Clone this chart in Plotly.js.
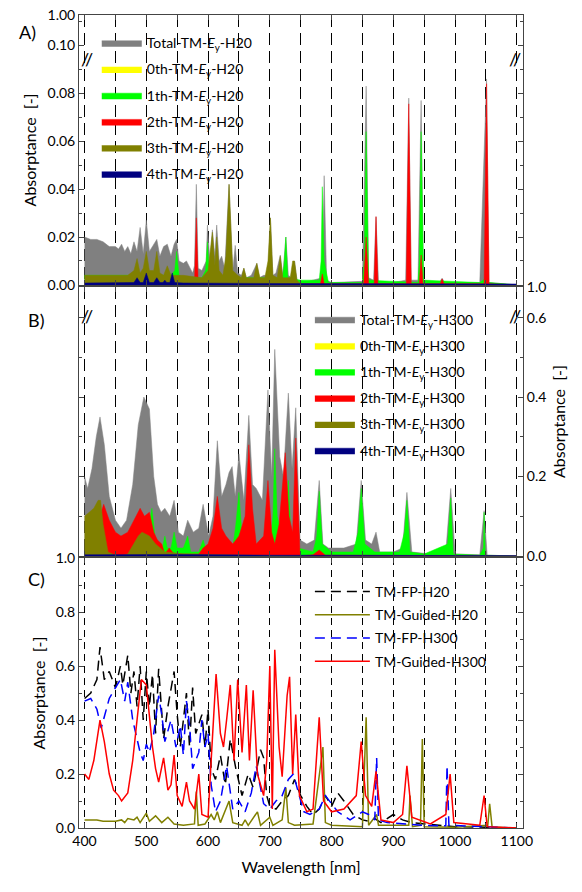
<!DOCTYPE html>
<html>
<head>
<meta charset="utf-8">
<script src="https://cdn.plot.ly/plotly-3.0.1.min.js"></script>
<style>body{margin:0;background:#fff}#plot{width:582px;height:892px}</style>
</head>
<body>
<div id="plot"></div>
<script>
// ---- panel A: H20 modal absorptance ----
const aTotX = [400,410,420,430,440,450,455,460,465,470,475,480,485,490,495,500,505,510,517,522,528,534,540,545,549,553,560,565,575,578,581,584,590,597,599,603,607,611,614,618,622,627,634,640,644,648,654,658,662,670,679,683,690,697,701,705,710,717,721,726,730,735,740,744,755,770,785,788,792,800,850,856,860,868,872,876,900,920,925,929,940,945,949,975,979,983,1040,1051,1055,1100];
const aTotY = [0.020,0.019,0.019,0.018,0.016,0.016,0.015,0.017,0.014,0.016,0.013,0.018,0.014,0.024,0.013,0.027,0.014,0.016,0.019,0.012,0.016,0.017,0.012,0.017,0.019,0.010,0.009,0.010,0.005,0.008,0.042,0.007,0.006,0.010,0.025,0.010,0.023,0.012,0.025,0.010,0.012,0.007,0.042,0.006,0.0165,0.005,0.004,0.007,0.003,0.004,0.009,0.003,0.004,0.004,0.028,0.004,0.005,0.0125,0.004,0.020,0.004,0.003,0.010,0.002,0.001,0.002,0.003,0.0456,0.002,0.001,0.0015,0.083,0.003,0.002,0.0285,0.001,0.001,0.002,0.078,0.002,0.002,0.077,0.002,0.0012,0.0028,0.001,0.001,0.086,0.001,0];
const a0X = [400,700,1100];
const a0Y = [0.0002,0.0001,0];
const a1X = [400,450,500,540,546,549,553,560,590,596,599,602,620,720,723,726,729,750,780,783,785,788,795,850,853,856,860,940,942,945,949,1040,1051,1055,1100];
const a1Y = [0.004,0.004,0.004,0.004,0.006,0.014,0.004,0.003,0.003,0.006,0.018,0.004,0.003,0.003,0.008,0.020,0.003,0.002,0.002,0.010,0.041,0.010,0.001,0.001,0.010,0.064,0.002,0.001,0.010,0.064,0.002,0.001,0.003,0.001,0];
const a2X = [400,420,423,426,500,578,581,584,782,785,788,852,856,860,869,872,875,921,925,929,942,945,948,976,979,982,1047,1051,1055,1100];
const a2Y = [0.0005,0.0005,0.002,0.0005,0.0005,0.0005,0.028,0.0005,0.0005,0.0046,0.0005,0.0005,0.020,0.0005,0.0005,0.0285,0.0005,0.0005,0.0756,0.0005,0.0005,0.0125,0.0005,0.0005,0.0025,0.0005,0.0005,0.084,0.0005,0];
const a3X = [400,440,470,480,485,490,495,500,505,512,517,522,528,534,540,550,560,590,600,607,611,614,618,624,629,634,640,648,654,658,662,674,679,684,692,697,701,705,712,717,721,733,737,740,744,752];
const a3Y = [0.004,0.004,0.004,0.006,0.011,0.005,0.007,0.014,0.006,0.006,0.014,0.005,0.004,0.008,0.004,0.004,0.004,0.003,0.006,0.022,0.008,0.020,0.006,0.004,0.012,0.042,0.006,0.004,0.003,0.007,0.003,0.003,0.009,0.003,0.003,0.010,0.028,0.004,0.003,0.012,0.003,0.003,0.010,0.010,0.002,0];
const a4X = [400,470,480,485,490,495,500,505,512,517,522,527,530,533,538,542,546,560,700,1100];
const a4Y = [0.0008,0.0008,0.001,0.003,0.001,0.001,0.005,0.001,0.001,0.003,0.001,0.001,0.002,0.001,0.001,0.005,0.001,0.0008,0.0006,0.0004];

// ---- panel B: H300 modal absorptance ----
const bTotX = [400,405,412,419,425,432,440,450,459,468,478,487,496,505,512,518,524,530,538,545,552,560,567,576,585,592,601,608,615,622,629,634,639,644,650,658,666,672,678,688,697,703,708,712,716,722,730,736,742,749,760,772,780,786,795,820,840,848,855,865,872,878,900,915,922,930,960,985,993,1000,1040,1047,1052,1100];
const bTotY = [0.20,0.17,0.22,0.30,0.35,0.28,0.15,0.09,0.07,0.09,0.18,0.33,0.40,0.37,0.20,0.13,0.11,0.12,0.10,0.14,0.06,0.05,0.09,0.06,0.07,0.13,0.05,0.10,0.29,0.15,0.18,0.21,0.225,0.15,0.257,0.14,0.354,0.18,0.17,0.14,0.418,0.20,0.52,0.38,0.25,0.20,0.41,0.22,0.373,0.04,0.03,0.04,0.19,0.03,0.02,0.02,0.03,0.19,0.04,0.03,0.06,0.01,0.01,0.02,0.16,0.01,0.005,0.01,0.17,0.005,0.003,0.114,0.002,0];
const b0X = [400,700,1100];
const b0Y = [0.0003,0.0002,0];
const b1X = [400,500,505,509,514,520,526,530,534,540,545,550,560,567,572,585,592,598,640,645,650,655,670,678,686,700,705,708,712,720,726,730,734,738,742,746,770,776,780,785,800,835,843,848,854,870,910,918,922,927,950,988,993,997,1040,1046,1047,1049,1100];
const b1Y = [0.0,0.0,0.08,0.12,0.05,0.03,0.02,0.05,0.02,0.02,0.06,0.02,0.02,0.05,0.01,0.01,0.04,0.01,0.02,0.08,0.16,0.05,0.02,0.02,0.01,0.03,0.10,0.27,0.10,0.05,0.12,0.19,0.06,0.03,0.05,0.02,0.01,0.05,0.163,0.03,0.01,0.01,0.06,0.17,0.03,0.01,0.01,0.06,0.14,0.01,0.005,0.03,0.146,0.005,0.002,0.02,0.11,0.002,0];
const b2X = [400,410,420,425,431,440,450,459,470,480,490,497,505,512,518,525,530,537,545,560,585,592,600,608,615,622,629,640,650,660,666,672,678,690,697,703,708,715,725,731,737,742,749,770,780,790,1100];
const b2Y = [0.0,0.0,0.05,0.10,0.13,0.09,0.06,0.05,0.06,0.09,0.12,0.10,0.11,0.06,0.04,0.03,0.005,0.02,0.005,0.005,0.005,0.02,0.03,0.07,0.15,0.07,0.05,0.03,0.05,0.10,0.28,0.12,0.03,0.05,0.19,0.06,0.03,0.08,0.26,0.10,0.06,0.297,0.0,0.003,0.015,0.002,0.0];
const b3X = [400,415,422,426,430,438,448,459,470,480,487,493,500,505,515,530,545,560,600,700,760];
const b3Y = [0.10,0.12,0.14,0.14,0.08,0.01,0.003,0.0,0.005,0.03,0.05,0.06,0.055,0.05,0.03,0.01,0.008,0.005,0.003,0.002,0.0];
const b4X = [400,550,700,1100];
const b4Y = [0.003,0.004,0.002,0.001];

// ---- panel C: FP and guided absorptance ----
const fpH20X = [400,410,420,425,432,440,450,458,462,470,475,480,485,490,495,500,505,510,515,520,528,535,545,550,555,565,570,575,580,590,595,600,605,612,620,628,636,645,655,665,673,685,690,695,700,710,720,730,740,750,760,770,780,790,800,810,820,835,850,860,870,880,900,915,930,950,1000,1050,1100];
const fpH20Y = [0.48,0.50,0.55,0.67,0.55,0.58,0.52,0.60,0.53,0.64,0.50,0.58,0.45,0.60,0.40,0.58,0.45,0.57,0.35,0.59,0.33,0.45,0.58,0.42,0.30,0.50,0.30,0.52,0.35,0.42,0.30,0.44,0.22,0.18,0.27,0.16,0.33,0.22,0.12,0.20,0.15,0.29,0.26,0.12,0.08,0.07,0.10,0.12,0.18,0.12,0.08,0.05,0.07,0.12,0.08,0.13,0.10,0.05,0.03,0.025,0.035,0.02,0.05,0.03,0.02,0.015,0.005,0.003,0.0];
const guH20X = [400,420,430,450,460,465,470,480,485,490,500,505,515,525,535,545,560,578,581,584,595,605,610,615,620,634,640,655,660,665,680,685,700,705,720,726,730,740,770,786,790,800,850,856,860,873,876,925,927,931,944,947,950,1000,1053,1056,1060,1100];
const guH20Y = [0.03,0.03,0.025,0.025,0.03,0.02,0.035,0.03,0.04,0.02,0.055,0.025,0.045,0.02,0.04,0.015,0.01,0.015,0.135,0.01,0.015,0.05,0.03,0.06,0.02,0.10,0.02,0.01,0.03,0.01,0.06,0.01,0.04,0.01,0.03,0.15,0.02,0.01,0.015,0.30,0.02,0.01,0.005,0.41,0.01,0.05,0.01,0.01,0.12,0.005,0.01,0.33,0.005,0.003,0.01,0.09,0.003,0.0];
const fpH300X = [400,410,420,427,440,450,458,465,470,478,485,490,495,500,505,512,520,525,530,540,548,555,560,565,570,575,585,590,595,600,605,612,620,630,640,650,660,670,678,690,700,710,720,730,738,745,755,765,780,790,800,810,830,850,860,870,873,876,890,920,950,985,987,990,1040,1100];
const fpH300Y = [0.47,0.48,0.44,0.37,0.48,0.52,0.55,0.47,0.54,0.40,0.33,0.28,0.25,0.31,0.28,0.35,0.49,0.42,0.32,0.40,0.30,0.38,0.27,0.47,0.38,0.22,0.28,0.40,0.30,0.35,0.16,0.06,0.10,0.23,0.07,0.10,0.06,0.13,0.23,0.09,0.07,0.10,0.12,0.18,0.20,0.14,0.06,0.05,0.07,0.12,0.09,0.06,0.03,0.06,0.05,0.03,0.26,0.03,0.02,0.015,0.01,0.008,0.23,0.01,0.005,0.0];
const guH300X = [400,407,415,425,432,440,447,455,460,470,478,485,492,500,505,510,515,520,528,535,540,545,550,558,565,570,578,585,590,600,605,613,620,625,630,636,642,648,655,662,667,673,680,690,695,700,704,708,715,720,728,732,737,742,748,760,770,780,787,800,820,840,848,855,865,872,880,900,915,922,930,960,985,992,998,1040,1047,1052,1100];
const guH300Y = [0.20,0.18,0.25,0.40,0.32,0.20,0.14,0.12,0.10,0.13,0.25,0.40,0.55,0.53,0.40,0.30,0.22,0.17,0.26,0.14,0.16,0.27,0.12,0.08,0.17,0.10,0.07,0.20,0.05,0.04,0.25,0.57,0.35,0.30,0.40,0.53,0.25,0.55,0.28,0.53,0.25,0.51,0.20,0.12,0.25,0.60,0.07,0.66,0.30,0.19,0.49,0.56,0.20,0.42,0.12,0.06,0.07,0.41,0.10,0.06,0.07,0.12,0.32,0.12,0.08,0.21,0.03,0.02,0.05,0.23,0.04,0.015,0.05,0.20,0.02,0.01,0.12,0.005,0.0];

const gridTicks = [400,450,500,550,600,650,700,750,800,850,900,950,1000,1050,1100];
const gridText = ['400','','500','','600','','700','','800','','900','','1000','','1100'];

const FONT = 'Lato, "Open Sans", sans-serif';
const sub = (s, h) => s + '-TM-<i>E</i><sub>y</sub>-' + h;

function area(x, y, color, name, xa, ya, leg) {
  return {x, y, name, legendgroup: name, xaxis: xa, yaxis: ya, legend: leg, type: 'scatter', mode: 'lines',
    fill: 'tozeroy', fillcolor: color, line: {color: color, width: 0.5}};
}
function curve(x, y, color, dash, name) {
  return {x, y, name, legendgroup: name, xaxis: 'x3', yaxis: 'y3', legend: 'legend3', type: 'scatter', mode: 'lines',
    line: {color: color, width: 1.5, dash: dash}};
}

const data = [
  area(aTotX, aTotY, '#808080', sub('Total', 'H20'), 'x', 'y', 'legend'),
  area(a0X, a0Y, '#ffff00', sub('0th', 'H20'), 'x', 'y', 'legend'),
  area(a1X, a1Y, '#00ff00', sub('1th', 'H20'), 'x', 'y', 'legend'),
  area(a2X, a2Y, '#ff0000', sub('2th', 'H20'), 'x', 'y', 'legend'),
  area(a3X, a3Y, '#808000', sub('3th', 'H20'), 'x', 'y', 'legend'),
  area(a4X, a4Y, '#000080', sub('4th', 'H20'), 'x', 'y', 'legend'),
  area(bTotX, bTotY, '#808080', sub('Total', 'H300'), 'x2', 'y2', 'legend2'),
  area(b0X, b0Y, '#ffff00', sub('0th', 'H300'), 'x2', 'y2', 'legend2'),
  area(b1X, b1Y, '#00ff00', sub('1th', 'H300'), 'x2', 'y2', 'legend2'),
  area(b2X, b2Y, '#ff0000', sub('2th', 'H300'), 'x2', 'y2', 'legend2'),
  area(b3X, b3Y, '#808000', sub('3th', 'H300'), 'x2', 'y2', 'legend2'),
  area(b4X, b4Y, '#000080', sub('4th', 'H300'), 'x2', 'y2', 'legend2'),
  curve(fpH20X, fpH20Y, '#000000', '10px,6px', 'TM-FP-H20'),
  curve(guH20X, guH20Y, '#808000', 'solid', 'TM-Guided-H20'),
  curve(fpH300X, fpH300Y, '#0000ff', '10px,6px', 'TM-FP-H300'),
  curve(guH300X, guH300Y, '#ff0000', 'solid', 'TM-Guided-H300'),
];

const xBase = {
  range: [391, 1110], tickvals: gridTicks, ticktext: gridText, ticks: 'inside', ticklen: 5,
  showgrid: true, gridcolor: '#000', griddash: '9px,6px', gridwidth: 1,
  showline: true, linecolor: '#444', linewidth: 1, mirror: 'ticks', zeroline: false,
  tickfont: {size: 14}
};
const yBase = {
  ticks: 'inside', ticklen: 5, showgrid: false, zeroline: false, showline: true,
  linecolor: '#444', linewidth: 1, mirror: 'ticks', tickfont: {size: 14},
  minor: {ticks: 'inside', ticklen: 3}
};
const legBase = {xanchor: 'left', yanchor: 'top', yref: 'paper', bgcolor: 'rgba(0,0,0,0)',
  font: {size: 14}, tracegroupgap: 5, itemwidth: 40};

const layout = {
  width: 582, height: 892, showlegend: true,
  font: {family: FONT, size: 14, color: '#000'},
  margin: {l: 79, r: 59, t: 15, b: 64},
  plot_bgcolor: '#fff', paper_bgcolor: '#fff',
  xaxis: Object.assign({}, xBase, {anchor: 'y', showticklabels: false, griddash: '12px,6px'}),
  xaxis2: Object.assign({}, xBase, {anchor: 'y2', showticklabels: false, griddash: '12px,6px'}),
  xaxis3: Object.assign({}, xBase, {anchor: 'y3', griddash: '7px,5px',
    title: {text: 'Wavelength [nm]', font: {size: 16}, standoff: 14}}),
  yaxis: Object.assign({}, yBase, {domain: [0.668, 1], range: [0, 0.1127],
    tickvals: [0, 0.02, 0.04, 0.06, 0.08, 0.10, 0.1127],
    ticktext: ['0.00', '0.02', '0.04', '0.06', '0.08', '0.10', '1.00'],
    minor: {ticks: 'inside', ticklen: 3, dtick: 0.01},
    title: {text: 'Absorptance  [-]', font: {size: 16}, standoff: 6}}),
  yaxis2: Object.assign({}, yBase, {domain: [0.3346, 0.6654], range: [0, 0.677], side: 'right',
    tickvals: [0, 0.2, 0.4, 0.6, 0.677], ticktext: ['0.0', '0.2', '0.4', '0.6', '1.0'],
    minor: {ticks: 'inside', ticklen: 3, dtick: 0.1},
    title: {text: 'Absorptance  [-]', font: {size: 16}, standoff: 8}}),
  yaxis3: Object.assign({}, yBase, {domain: [0, 0.332], range: [0, 1.0], dtick: 0.2,
    tickformat: '.1f', minor: {ticks: 'inside', ticklen: 3, dtick: 0.1},
    title: {text: 'Absorptance  [-]', font: {size: 16}, standoff: 6}}),
  legend: Object.assign({}, legBase, {x: 0.04, y: 0.985}),
  legend2: Object.assign({}, legBase, {x: 0.52, y: 0.645}),
  legend3: Object.assign({}, legBase, {x: 0.52, y: 0.31, itemwidth: 55, tracegroupgap: 2}),
  annotations: [
    {text: 'A)', xref: 'paper', yref: 'paper', x: -0.14, y: 0.995, showarrow: false, font: {size: 18}, xanchor: 'left'},
    {text: 'B)', xref: 'paper', yref: 'paper', x: -0.12, y: 0.625, showarrow: false, font: {size: 18}, xanchor: 'left'},
    {text: 'C)', xref: 'paper', yref: 'paper', x: -0.12, y: 0.29, showarrow: false, font: {size: 18}, xanchor: 'left'},
    {text: '//', xref: 'paper', yref: 'paper', x: 0, y: 0.962, showarrow: false, font: {size: 18}},
    {text: '//', xref: 'paper', yref: 'paper', x: 1, y: 0.962, showarrow: false, font: {size: 18}},
    {text: '//', xref: 'paper', yref: 'paper', x: 0, y: 0.63, showarrow: false, font: {size: 18}},
    {text: '//', xref: 'paper', yref: 'paper', x: 1, y: 0.63, showarrow: false, font: {size: 18}}
  ]
};

Plotly.newPlot('plot', data, layout, {displayModeBar: false, staticPlot: true});
</script>
</body>
</html>
